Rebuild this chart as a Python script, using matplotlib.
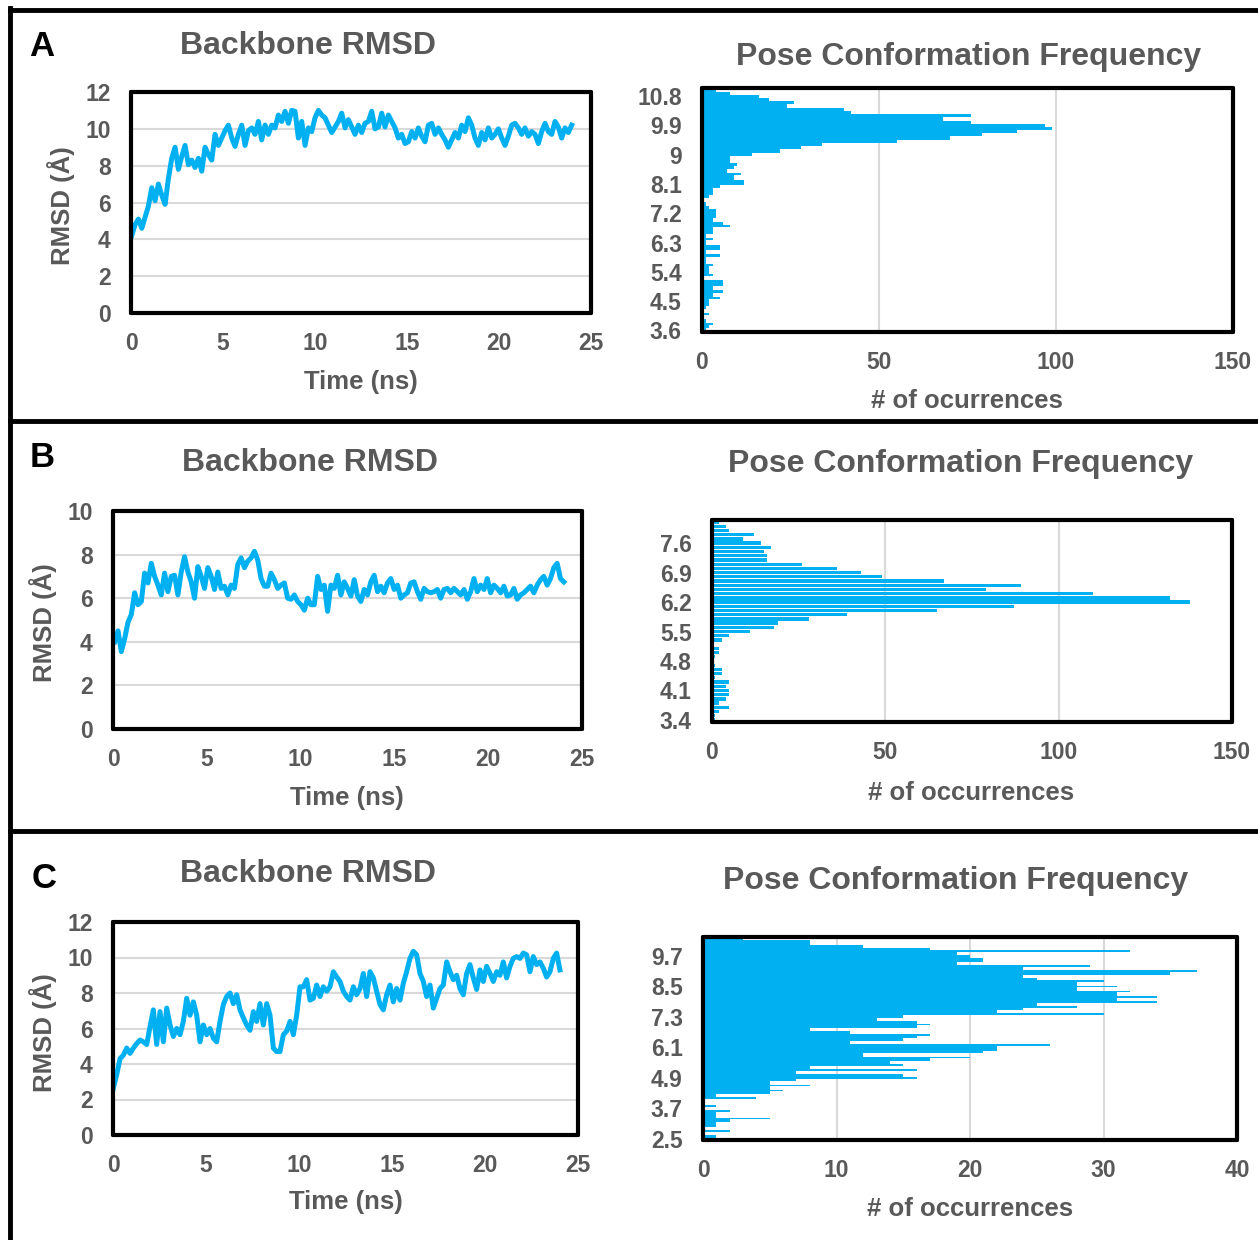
import numpy as np
import matplotlib
matplotlib.use('Agg')
import matplotlib.pyplot as plt
from matplotlib.lines import Line2D

W, H = 1258, 1240
BLUE = '#00B0F0'
GRAY = '#595959'
GRID = '#D9D9D9'

plt.rcParams['font.family'] = ['Liberation Sans', 'DejaVu Sans']
plt.rcParams['font.weight'] = 'bold'

# ------------------------- backbone RMSD traces (Å) -------------------------
# values read at evenly spaced points along the time axis
rmsd_a = [4.2, 4.8, 5.1, 4.6, 5.2, 5.8, 6.8, 6.1, 7.0, 6.4,
          5.9, 7.3, 8.4, 9.0, 7.8, 8.5, 9.1, 8.05, 8.3, 7.9,
          8.4, 7.7, 9.0, 8.6, 8.3, 9.7, 9.1, 9.5, 9.9, 10.2,
          9.5, 9.05, 9.7, 10.2, 9.1, 9.9, 10.05, 9.7, 10.4, 9.4,
          10.2, 9.7, 10.2, 10.05, 10.75, 10.4, 10.95, 10.3, 11.0, 10.95,
          9.5, 10.4, 9.1, 10.05, 9.85, 10.6, 11.0, 10.75, 10.6, 10.2,
          9.8, 10.1, 10.4, 10.85, 10.05, 10.5, 10.1, 9.7, 10.2, 9.8,
          10.3, 10.4, 10.95, 10.0, 10.1, 10.85, 10.1, 10.75, 10.4, 10.05,
          9.5, 9.7, 9.2, 9.3, 9.85, 9.5, 10.05, 9.6, 9.3, 10.2,
          10.3, 9.7, 10.05, 9.7, 9.4, 9.0, 9.4, 9.8, 9.5, 10.2,
          9.85, 10.6, 10.2, 9.5, 9.1, 9.8, 9.4, 10.05, 9.5, 9.7,
          10.0, 9.5, 9.1, 9.6, 10.2, 10.3, 10.05, 9.7, 10.05, 9.6,
          9.85, 9.7, 9.2, 9.85, 10.3, 9.85, 9.7, 10.4, 10.1, 9.5,
          10.05, 9.8, 10.2]
rmsd_b = [4.0, 4.5, 3.55, 4.15, 4.9, 5.25, 6.25, 5.7, 5.85, 7.15,
          6.7, 7.6, 7.0, 6.6, 6.15, 7.15, 6.3, 7.0, 7.05, 6.15,
          7.2, 7.9, 7.2, 6.75, 6.0, 7.45, 7.0, 6.45, 7.4, 7.0,
          6.4, 7.2, 6.45, 6.55, 6.15, 6.6, 6.45, 7.55, 7.85, 7.4,
          7.7, 7.85, 8.15, 7.75, 6.9, 6.55, 6.55, 7.15, 6.85, 6.45,
          6.6, 6.7, 6.0, 5.95, 6.15, 5.85, 5.7, 5.45, 6.0, 5.7,
          5.7, 7.0, 6.4, 6.6, 5.4, 6.6, 6.45, 7.05, 6.15, 6.75,
          6.45, 6.1, 6.85, 6.1, 5.85, 6.4, 6.15, 6.75, 7.05, 6.3,
          6.55, 6.25, 6.7, 6.9, 6.4, 6.6, 6.0, 6.15, 6.25, 6.7,
          6.75, 6.3, 5.95, 6.45, 6.3, 6.25, 6.3, 6.4, 6.0, 6.4,
          6.45, 6.25, 6.45, 6.3, 6.15, 6.4, 5.95, 6.3, 6.9, 6.3,
          6.6, 6.4, 6.9, 6.25, 6.6, 6.45, 6.25, 6.55, 6.1, 6.15,
          6.45, 5.95, 6.15, 6.25, 6.4, 6.55, 6.25, 6.6, 6.85, 7.0,
          6.6, 6.9, 7.4, 7.6, 6.9, 6.75]
rmsd_c = [2.65, 3.4, 4.3, 4.5, 4.9, 4.6, 4.9, 5.15, 5.35, 5.25,
          5.1, 6.1, 7.05, 5.1, 6.95, 5.25, 7.15, 6.2, 5.55, 6.0,
          5.65, 6.4, 7.7, 6.75, 7.5, 6.75, 5.25, 6.2, 5.65, 6.0,
          5.45, 5.25, 6.4, 7.35, 7.8, 8.0, 7.4, 7.9, 7.05, 6.6,
          6.2, 5.9, 6.95, 6.4, 7.4, 6.2, 7.4, 6.75, 4.9, 4.7,
          4.7, 5.65, 5.85, 6.4, 5.65, 6.75, 8.35, 8.35, 8.75, 7.6,
          7.7, 8.45, 7.8, 8.35, 8.1, 8.35, 9.2, 8.9, 8.65, 8.1,
          7.8, 7.6, 8.35, 7.9, 8.25, 9.1, 7.8, 9.2, 8.85, 8.1,
          7.35, 7.05, 7.9, 8.45, 7.5, 8.25, 7.6, 8.55, 9.2, 9.95,
          10.35, 10.15, 9.1, 8.65, 7.8, 8.45, 7.15, 7.7, 8.25, 8.45,
          9.75, 9.2, 8.75, 9.0, 8.25, 7.9, 9.1, 9.6, 8.85, 8.2,
          9.3, 8.65, 9.5, 9.1, 8.65, 9.2, 9.0, 9.75, 8.85, 9.5,
          9.95, 10.05, 9.95, 10.25, 10.15, 9.2, 10.05, 9.6, 9.75, 9.4,
          8.9, 9.2, 9.95, 10.25, 9.3]
time_a = np.linspace(0.04, 23.95, len(rmsd_a))
time_b = np.linspace(0.09, 24.03, len(rmsd_b))
time_c = np.linspace(0.02, 24.03, len(rmsd_c))

# ------------------------- pose frequency histograms -------------------------
# counts listed from the top bar (largest RMSD bin) down to the bottom bar
counts_a = [4, 8, 16, 19, 26, 24, 40, 42, 76, 68, 76,
            97, 99, 89, 79, 70, 55, 34, 28, 22, 14,
            8, 8, 10, 9, 7, 11, 9, 12, 12, 5,
            3, 3, 2, 0, 1, 2, 4, 4, 4, 3,
            6, 8, 3, 3, 1, 3, 1, 5, 5, 1,
            5, 1, 1, 3, 2, 2, 3, 0, 6, 6,
            3, 6, 3, 5, 2, 2, 1, 0, 2, 0,
            1, 3, 2, 1][::-1]
counts_b = [2, 4, 5, 12, 9, 14, 17, 15, 16, 16,
            26, 36, 43, 49, 67, 89, 79, 110, 132, 138,
            87, 65, 39, 28, 19, 18, 11, 5, 3, 0,
            2, 2, 1, 0, 1, 3, 3, 1, 5, 4,
            5, 5, 4, 2, 5, 2, 1, 1][::-1]
counts_c = [3, 8, 8, 12, 17, 32, 19, 20, 21, 21,
            19, 29, 24, 37, 35, 24, 25, 30, 28, 31,
            28, 32, 31, 34, 31, 34, 25, 28, 24, 22,
            30, 15, 13, 16, 17, 16, 8, 11, 17, 16,
            15, 11, 26, 22, 22, 21, 12, 20, 17, 14,
            15, 8, 16, 7, 15, 16, 7, 5, 8, 5,
            6, 5, 1, 4, 0, 0, 1, 0, 2, 1,
            1, 5, 2, 1, 1, 0, 2, 0, 1, 1][::-1]
# RMSD bin categories (Å), bottom bar first
bins_a = np.round(np.arange(36, 111) / 10, 1)
bins_b = np.round(np.arange(34, 82) / 10, 1)
bins_c = np.round(np.arange(25, 105) / 10, 1)
cat_labels_a = ['3.6', '4.5', '5.4', '6.3', '7.2', '8.1', '9', '9.9', '10.8']
cat_labels_b = ['3.4', '4.1', '4.8', '5.5', '6.2', '6.9', '7.6']
cat_labels_c = ['2.5', '3.7', '4.9', '6.1', '7.3', '8.5', '9.7']

fig = plt.figure(figsize=(W / 100, H / 100), dpi=100)


def rect(x0, y0, x1, y1):
    return [x0 / W, 1 - y1 / H, (x1 - x0) / W, (y1 - y0) / H]


def put(x, y, s, size, color=GRAY, rot=0):
    # small downward nudge so the visual centre lands where it was measured
    fig.text(x / W, 1 - (y + 2.5) / H, s, ha='center', va='center', fontsize=size,
             color=color, rotation=rot, fontweight='bold')


def frame(ax):
    for s in ax.spines.values():
        s.set_linewidth(3)
        s.set_color('black')
        s.set_capstyle('round')
        s.set_joinstyle('round')
    ax.set_axisbelow(True)


def rmsd_panel(box, t, y, ymax):
    ax = fig.add_axes(rect(*box))
    ax.plot(t, y, color=BLUE, lw=3.6, solid_joinstyle='round')
    ax.set_xlim(0, 25)
    ax.set_ylim(0, ymax)
    ax.set_xticks(range(0, 26, 5))
    ax.set_yticks(range(0, ymax + 1, 2))
    ax.grid(axis='y', color=GRID, lw=1.5)
    ax.tick_params(length=0, labelsize=16.5, labelcolor=GRAY)
    ax.tick_params(axis='y', pad=14.5)
    ax.tick_params(axis='x', pad=13.5)
    frame(ax)
    return ax


def freq_panel(box, bins, counts, labels, step, xmax, xstep, solid):
    ax = fig.add_axes(rect(*box))
    pos = np.arange(len(bins))
    counts = np.array(counts)
    if solid:
        ax.barh(pos, counts, height=0.72, color=BLUE, lw=0)
        # fill the gap between neighbouring bars where both extend
        ax.barh(pos[:-1] + 0.5, np.minimum(counts[:-1], counts[1:]),
                height=0.3, color=BLUE, lw=0)
    else:
        ax.barh(pos, counts, height=0.8, color=BLUE, lw=0)
    ax.set_ylim(-0.5, len(bins) - 0.5)
    ax.set_xlim(0, xmax)
    ax.set_yticks(pos[::step][:len(labels)], labels)
    ax.set_xticks(range(0, xmax + 1, xstep))
    ax.grid(axis='x', color=GRID, lw=1.5)
    ax.tick_params(length=0, labelsize=16.5, labelcolor=GRAY)
    ax.tick_params(axis='y', pad=14.5)
    ax.tick_params(axis='x', pad=13.5)
    frame(ax)
    return ax


# ------------------------- panel A -------------------------
rmsd_panel((131, 92, 591, 313), time_a, rmsd_a, 12)
freq_panel((702, 88, 1233, 332), bins_a, counts_a, cat_labels_a, 9, 150, 50, True)
put(42, 44, 'A', 25, color='black')
put(308, 44, 'Backbone RMSD', 23)
put(61, 203, 'RMSD (Å)', 18.5, rot=90)
put(361, 379, 'Time (ns)', 18.5)
put(969, 55, 'Pose Conformation Frequency', 23)
put(967, 398, '# of ocurrences', 18.5)

# ------------------------- panel B -------------------------
rmsd_panel((113, 511, 582, 729), time_b, rmsd_b, 10)
freq_panel((712, 520, 1232, 722), bins_b, counts_b, cat_labels_b, 7, 150, 50, False)
put(42, 455, 'B', 25, color='black')
put(310, 460, 'Backbone RMSD', 23)
put(43, 620, 'RMSD (Å)', 18.5, rot=90)
put(347, 795, 'Time (ns)', 18.5)
put(961, 462, 'Pose Conformation Frequency', 23)
put(971, 790, '# of occurrences', 18.5)

# ------------------------- panel C -------------------------
rmsd_panel((113, 922, 578, 1135), time_c, rmsd_c, 12)
freq_panel((703, 937, 1237, 1140), bins_c, counts_c, cat_labels_c, 12, 40, 10, True)
put(44, 876, 'C', 25, color='black')
put(308, 872, 'Backbone RMSD', 23)
put(43, 1030, 'RMSD (Å)', 18.5, rot=90)
put(346, 1200, 'Time (ns)', 18.5)
put(956, 878, 'Pose Conformation Frequency', 23)
put(970, 1206, '# of occurrences', 18.5)

# ------------------------- outer frame and separators -------------------------
for y in (10, 421, 831):
    fig.add_artist(Line2D([10 / W, 1], [1 - y / H, 1 - y / H], color='black', lw=3.5))
fig.add_artist(Line2D([10 / W, 10 / W], [1 - 8 / H, 0], color='black', lw=3.5))

fig.savefig('out.png', dpi=100)
